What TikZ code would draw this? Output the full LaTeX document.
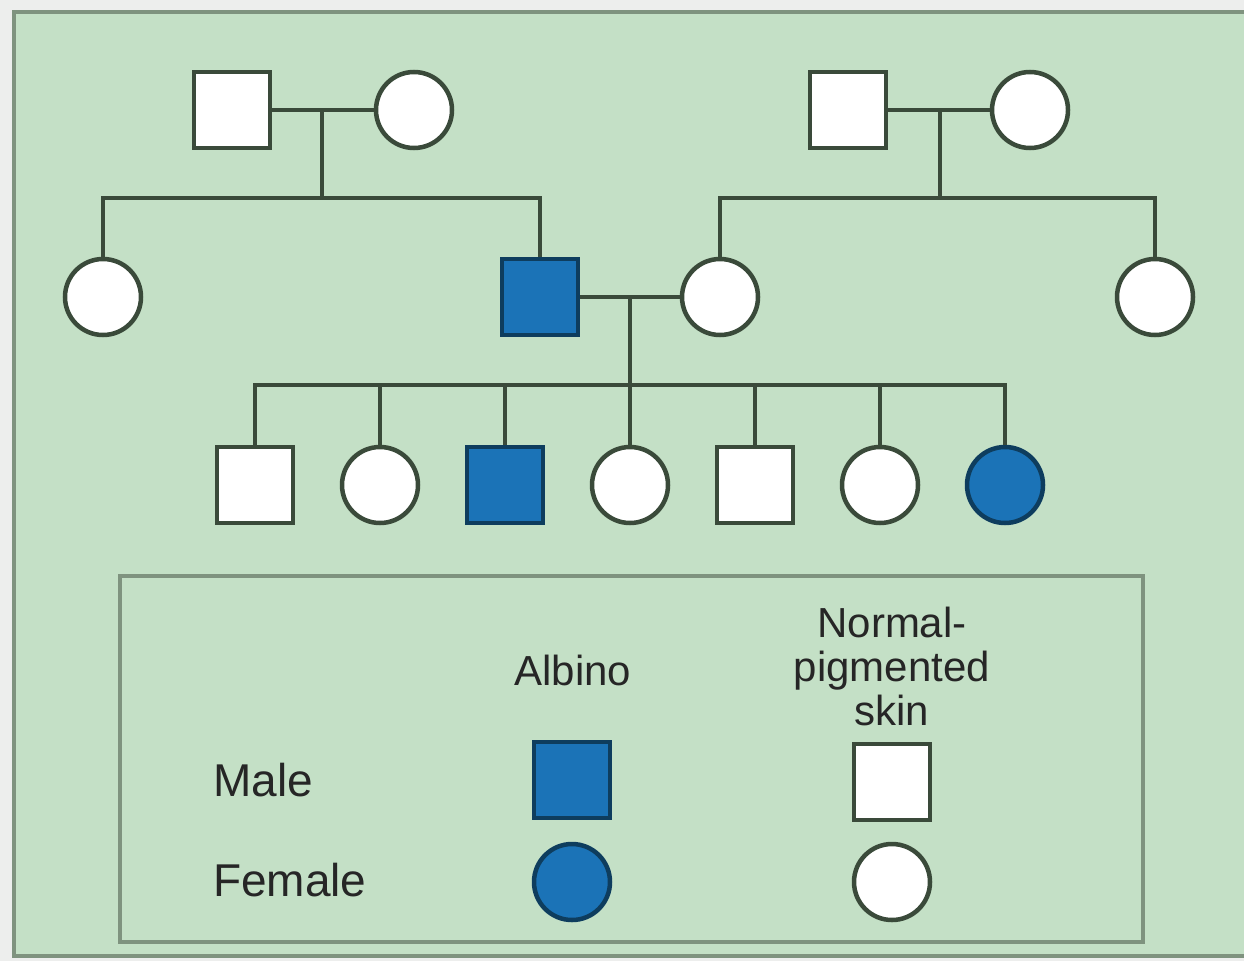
\documentclass[tikz,border=0pt]{standalone}
\usepackage{fontspec}
\setmainfont{Liberation Sans}
\definecolor{panel}{HTML}{C4E0C6}
\definecolor{frame}{HTML}{7F937F}
\definecolor{ink}{HTML}{3A4A3A}
\definecolor{fillblue}{HTML}{1B73B7}
\definecolor{darkblue}{HTML}{0E3D5E}
\definecolor{outside}{HTML}{EDEEED}
\tikzset{
  male/.style={draw=ink, line width=4.5pt, fill=white, rectangle, minimum size=76pt, inner sep=0pt},
  female/.style={draw=ink, line width=4.5pt, fill=white, circle, minimum size=76pt, inner sep=0pt},
  affected/.style={fill=fillblue, draw=darkblue},
  link/.style={draw=ink, line width=4.5pt},
  lbl/.style={font=\fontsize{42}{44}\selectfont, text=black!85, inner sep=0pt},
}
\begin{document}
\begin{tikzpicture}[x=1pt,y=-1pt]
\useasboundingbox (0,0) rectangle (1244,961);
\fill[outside] (0,0) rectangle (1244,961);
\draw[frame, fill=panel, line width=4.5pt] (14,12) rectangle (1246,956);
% generation 1
\node[male] (gf1) at (232,110) {};
\node[female] (gm1) at (414,110) {};
\node[male] (gf2) at (848,110) {};
\node[female] (gm2) at (1030,110) {};
% generation 2
\node[female] (aunt1) at (103,297) {};
\node[male, affected] (father) at (540,297) {};
\node[female] (mother) at (720,297) {};
\node[female] (aunt2) at (1155,297) {};
% generation 3
\node[male] (k1) at (255,485) {};
\node[female] (k2) at (380,485) {};
\node[male, affected] (k3) at (505,485) {};
\node[female] (k4) at (630,485) {};
\node[male] (k5) at (755,485) {};
\node[female] (k6) at (880,485) {};
\node[female, affected] (k7) at (1005,485) {};
% couple 1
\coordinate (m1) at (322,110);
\coordinate (s1) at (322,198);
\draw[link] (gf1.east) -- (gm1.west);
\draw[link] (m1) -- (s1);
\draw[link] (aunt1.north) |- (father.north |- s1) -- (father.north);
% couple 2
\coordinate (m2) at (940,110);
\coordinate (s2) at (940,198);
\draw[link] (gf2.east) -- (gm2.west);
\draw[link] (m2) -- (s2);
\draw[link] (mother.north) |- (aunt2.north |- s2) -- (aunt2.north);
% couple 3
\coordinate (m3) at (630,297);
\coordinate (s3) at (630,385);
\draw[link] (father.east) -- (mother.west);
\draw[link] (m3) -- (s3);
\draw[link] (k1.north) |- (k7.north |- s3) -- (k7.north);
\foreach \k in {k2,k3,k4,k5,k6} \draw[link] (\k.north) -- (\k.north |- s3);
% legend
\draw[frame, line width=4.5pt] (120,576) rectangle (1143,942);
\node[lbl] (albino) at (573,670) {Albino};
\node[lbl, align=center, font=\fontsize{42}{44}\selectfont] (normal) at (892,666) {Normal-\\pigmented\\skin};
\node[lbl, anchor=west, font=\fontsize{46}{48}\selectfont] (malelbl) at (213,780) {Male};
\node[lbl, anchor=west, font=\fontsize{46}{48}\selectfont] (femalelbl) at (213,880) {Female};
\node[male, affected] (lam) at (572,780) {};
\node[male] (lnm) at (892,782) {};
\node[female, affected] (laf) at (572,882) {};
\node[female] (lnf) at (892,882) {};
\end{tikzpicture}
\end{document}
